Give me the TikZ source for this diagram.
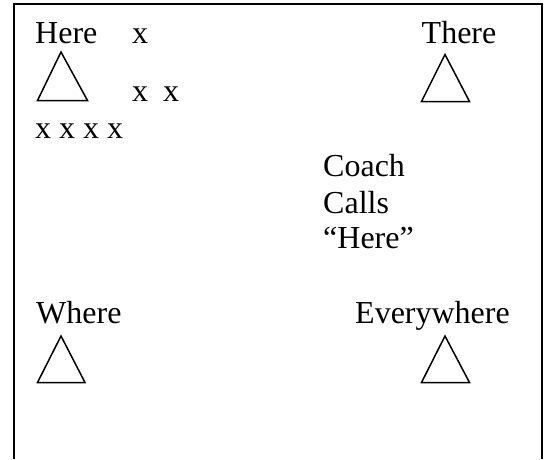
\documentclass[tikz,border=0pt]{standalone}
\usepackage{fontspec}
\setmainfont{Liberation Serif}
\begin{document}
\begin{tikzpicture}[x=1pt,y=-1pt,
  lbl/.style={anchor=base west,inner sep=0pt,font=\fontsize{32}{36}\selectfont},
  cone/.style={line width=1.5pt,line join=miter},
  frame/.style={line width=1.8pt}]
\useasboundingbox (0,0) rectangle (550,459);
% open-bottomed field boundary
\draw[frame] (14,459) -- (14,4) -- (542,4) -- (542,459);

% corner labels
\node[lbl] (here) at (35,43.5) {Here};
\node[lbl] (there) at (421.5,43.5) {There};
\node[lbl] (where) at (36,323.5) {Where};
\node[lbl] (every) at (355,323.5) {Everywhere};

% cones
\draw[cone] (61,52) -- (87.5,100.5) -- (37.5,100.5) -- cycle;
\draw[cone] (445,54.5) -- (469.5,101.5) -- (421.5,101.5) -- cycle;
\draw[cone] (61,336) -- (85,382.5) -- (37.5,382.5) -- cycle;
\draw[cone] (445,336) -- (469.5,382.5) -- (421.5,382.5) -- cycle;

% players
\node[lbl] (p1) at (132,43.5) {x};
\node[lbl] (p2) at (132,101.5) {x};
\node[lbl] (p3) at (163,101.5) {x};
\node[lbl] (row) at (35,138) {x x x x};

% coach call
\node[lbl] (c1) at (323,176.5) {Coach};
\node[lbl] (c2) at (323,213) {Calls};
\node[lbl] (c3) at (323,248.5) {“Here”};
\end{tikzpicture}
\end{document}
